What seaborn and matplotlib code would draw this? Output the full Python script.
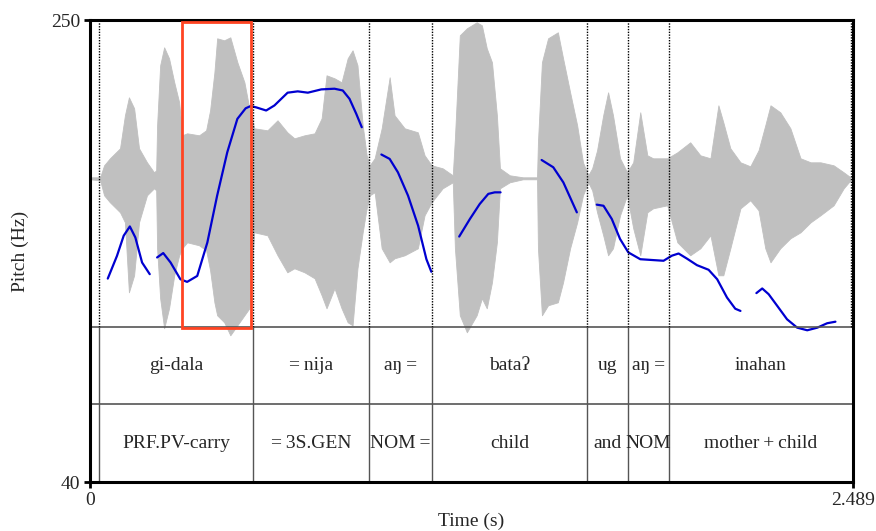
import numpy as np
import pandas as pd
import matplotlib
matplotlib.use("Agg")
import matplotlib.pyplot as plt
from matplotlib.patches import Rectangle
import seaborn as sns

# ---------------- data ----------------
# waveform envelope (time in s, amplitude in Pa-like units)
wave_time = [0.000, 0.033, 0.046, 0.065, 0.098, 0.114, 0.127, 0.144, 0.160, 0.186,
             0.209, 0.216, 0.219, 0.229, 0.242, 0.258, 0.275, 0.291, 0.301, 0.317,
             0.356, 0.379, 0.392, 0.406, 0.415, 0.438, 0.458, 0.481, 0.504, 0.520,
             0.536, 0.579, 0.612, 0.644, 0.667, 0.700, 0.733, 0.756, 0.772, 0.798,
             0.821, 0.841, 0.857, 0.873, 0.890, 0.903, 0.913, 0.929, 0.952, 0.978,
             0.994, 1.027, 1.070, 1.092, 1.115, 1.151, 1.184, 1.191, 1.207, 1.230,
             1.262, 1.279, 1.295, 1.312, 1.328, 1.338, 1.370, 1.413, 1.459, 1.462,
             1.475, 1.495, 1.527, 1.544, 1.567, 1.590, 1.609, 1.626, 1.639, 1.655,
             1.675, 1.691, 1.707, 1.730, 1.753, 1.773, 1.796, 1.819, 1.838, 1.884,
             1.917, 1.959, 1.992, 2.025, 2.051, 2.067, 2.090, 2.123, 2.155, 2.182,
             2.204, 2.221, 2.253, 2.286, 2.319, 2.352, 2.384, 2.427, 2.460, 2.482]
wave_top = [0.001, 0.001, 0.013, 0.020, 0.030, 0.063, 0.081, 0.070, 0.030, 0.016,
            0.006, 0.008, 0.053, 0.113, 0.131, 0.120, 0.096, 0.076, 0.043, 0.045,
            0.043, 0.048, 0.068, 0.106, 0.140, 0.138, 0.141, 0.116, 0.096, 0.070,
            0.050, 0.048, 0.058, 0.046, 0.040, 0.043, 0.045, 0.060, 0.103, 0.100,
            0.096, 0.120, 0.128, 0.113, 0.053, 0.023, 0.013, 0.020, 0.050, 0.101,
            0.063, 0.050, 0.046, 0.023, 0.013, 0.010, 0.003, 0.040, 0.143, 0.150,
            0.156, 0.153, 0.130, 0.116, 0.063, 0.010, 0.003, 0.001, 0.001, 0.036,
            0.116, 0.140, 0.146, 0.120, 0.086, 0.053, 0.016, 0.003, 0.010, 0.028,
            0.063, 0.086, 0.063, 0.020, 0.006, 0.016, 0.066, 0.023, 0.020, 0.020,
            0.026, 0.036, 0.023, 0.020, 0.073, 0.056, 0.030, 0.016, 0.012, 0.028,
            0.053, 0.073, 0.066, 0.050, 0.020, 0.016, 0.016, 0.013, 0.006, 0.001]
wave_bottom = [-0.001, -0.002, -0.017, -0.024, -0.034, -0.044, -0.114, -0.097, -0.044, -0.017,
               -0.010, -0.012, -0.070, -0.120, -0.150, -0.130, -0.097, -0.077, -0.070, -0.064,
               -0.067, -0.072, -0.092, -0.124, -0.137, -0.144, -0.157, -0.147, -0.137, -0.130,
               -0.054, -0.057, -0.077, -0.094, -0.090, -0.094, -0.100, -0.117, -0.130, -0.110,
               -0.130, -0.144, -0.147, -0.090, -0.054, -0.030, -0.017, -0.014, -0.070, -0.084,
               -0.080, -0.077, -0.070, -0.037, -0.024, -0.010, -0.004, -0.070, -0.137, -0.154,
               -0.137, -0.120, -0.130, -0.104, -0.064, -0.010, -0.004, -0.001, -0.001, -0.070,
               -0.137, -0.127, -0.124, -0.104, -0.070, -0.044, -0.017, -0.004, -0.012, -0.034,
               -0.057, -0.077, -0.070, -0.037, -0.017, -0.050, -0.077, -0.034, -0.030, -0.027,
               -0.064, -0.077, -0.070, -0.057, -0.097, -0.097, -0.070, -0.030, -0.022, -0.032,
               -0.070, -0.084, -0.070, -0.060, -0.054, -0.044, -0.037, -0.027, -0.010, -0.002]

# pitch contour (segment id, time s, Hz)
pitch_seg = [1] * 7 + [2] * 24 + [3] * 7 + [4] * 6 + [5] * 5 + [6] * 17 + [7] * 10
pitch_time = [0.058, 0.088, 0.110, 0.130, 0.148, 0.170, 0.195,
              0.219, 0.239, 0.263, 0.295, 0.317, 0.350, 0.383, 0.415, 0.448, 0.481,
              0.508, 0.524, 0.543, 0.575, 0.602, 0.645, 0.678, 0.711, 0.755, 0.798,
              0.825, 0.847, 0.869, 0.887,
              0.951, 0.978, 1.005, 1.038, 1.071, 1.098, 1.114,
              1.205, 1.240, 1.272, 1.300, 1.321, 1.340,
              1.474, 1.512, 1.545, 1.567, 1.589,
              1.654, 1.676, 1.703, 1.730, 1.757, 1.796, 1.839, 1.872, 1.899, 1.921,
              1.948, 1.981, 2.019, 2.047, 2.079, 2.106, 2.123,
              2.175, 2.194, 2.215, 2.243, 2.275, 2.308, 2.341, 2.374, 2.406, 2.433]
pitch_hz = [132.6, 142.9, 152.1, 156.3, 151.3, 139.9, 134.6,
            142.2, 144.2, 139.9, 132.3, 131.1, 133.8, 149.0, 170.3, 190.0, 205.2,
            210.0, 211.0, 210.4, 209.0, 211.3, 217.1, 217.7, 217.1, 218.6, 218.9,
            218.1, 214.3, 207.5, 201.4,
            189.0, 187.0, 180.9, 170.3, 156.6, 141.4, 135.7,
            151.7, 159.7, 166.5, 171.1, 171.8, 171.8,
            186.5, 183.2, 176.3, 169.5, 162.7,
            166.2, 165.7, 159.7, 150.6, 144.5, 141.4, 141.0, 140.7, 143.0, 144.0,
            141.7, 138.7, 136.6, 132.3, 124.0, 118.9, 117.9,
            126.0, 128.1, 125.5, 120.2, 114.1, 110.3, 109.1, 110.3, 112.3, 113.0]

# text grid
boundaries = [0.030, 0.533, 0.910, 1.116, 1.623, 1.756, 1.891, 2.484]
tier1_labels = ["gi-dala", "=\u2009nija", "a\u014b\u2009=", "bata\u0294", "ug", "a\u014b\u2009=", "inahan"]
tier2_labels = ["PRF.PV-carry", "=\u20093S.GEN", "NOM\u2009=", "child", "and", "NOM", "mother\u2009+\u2009child"]

# axis range / ticks
t_min, t_max = 0.0, 2.489
f_min, f_max = 40, 250
x_tick_labels = ["0", "2.489"]
y_tick_labels = ["40", "250"]

# highlighted region
hl_t0, hl_t1 = 0.301, 0.5245
hl_f0, hl_f1 = 110.0, 249.1

# ---------------- drawing ----------------
sns.set_style("white")
plt.rcParams['font.family'] = ['Liberation Serif', 'DejaVu Serif']
plt.rcParams['font.size'] = 14

W, H = 876, 531
fig = plt.figure(figsize=(W / 100, H / 100), dpi=100)
ax_l, ax_r, ax_t, ax_b = 90.0, 852.6, 20.3, 482.3
rect = [ax_l / W, (H - ax_b) / H, (ax_r - ax_l) / W, (ax_b - ax_t) / H]

# waveform axes underneath
wax = fig.add_axes(rect)
wax.fill_between(wave_time, wave_bottom, wave_top, color="#c0c0c0", lw=0.6, edgecolor="#c0c0c0")
wax.set_xlim(t_min, t_max)
zero_px = 178.3
wax.set_ylim(-(ax_b - zero_px) / 1000.0, (zero_px - ax_t) / 1000.0)
wax.axis("off")

# main axes
ax = fig.add_axes(rect)
ax.patch.set_alpha(0)
df = pd.DataFrame({"seg": pitch_seg, "t": pitch_time, "hz": pitch_hz})
sns.lineplot(data=df, x="t", y="hz", units="seg", estimator=None, sort=False,
             color="#0000d0", lw=1.6, ax=ax)
ax.set_xlim(t_min, t_max)
ax.set_ylim(f_min, f_max)

tier_top = (ax_b - 327.3) / (ax_b - ax_t)
tier_mid = (ax_b - 404.3) / (ax_b - ax_t)
ax.axhline(f_min + tier_top * (f_max - f_min), color="#555555", lw=1.2)
ax.axhline(f_min + tier_mid * (f_max - f_min), color="#555555", lw=1.2)

for i, b in enumerate(boundaries):
    ax.axvline(b, ymin=tier_top, ymax=1, color="black", lw=1.0, ls=(0, (1, 1)))
    if i < len(boundaries) - 1:
        ax.axvline(b, ymin=0, ymax=tier_top, color="#555555", lw=1.0)

centers = [(boundaries[i] + boundaries[i + 1]) / 2 for i in range(len(boundaries) - 1)]
for c, lab in zip(centers, tier1_labels):
    ax.text(c, (tier_top + tier_mid) / 2, lab, transform=ax.get_xaxis_transform(),
            ha="center", va="center", fontsize=14)
for c, lab in zip(centers, tier2_labels):
    ax.text(c, tier_mid / 2, lab, transform=ax.get_xaxis_transform(),
            ha="center", va="center", fontsize=14)

ax.add_patch(Rectangle((hl_t0, hl_f0), hl_t1 - hl_t0, hl_f1 - hl_f0,
                       fill=False, edgecolor="#ff4422", lw=2.0, zorder=5))

for s in ax.spines.values():
    s.set_visible(True)
    s.set_linewidth(2.2)
    s.set_color("black")

ax.set_xticks([t_min, t_max])
ax.set_xticklabels(x_tick_labels)
ax.set_yticks([f_min, f_max])
ax.set_yticklabels(y_tick_labels)
ax.tick_params(axis="both", direction="out", length=4, width=2, color="black",
               labelsize=14, pad=3, bottom=True, left=True)
ax.set_xlabel("")
ax.set_ylabel("")
fig.text(471 / W, 1 - 521 / H, "Time (s)", ha="center", va="center", fontsize=14)
fig.text(20 / W, 1 - 251 / H, "Pitch (Hz)", ha="center", va="center", rotation=90, fontsize=14)

fig.savefig("out.png", dpi=100)
